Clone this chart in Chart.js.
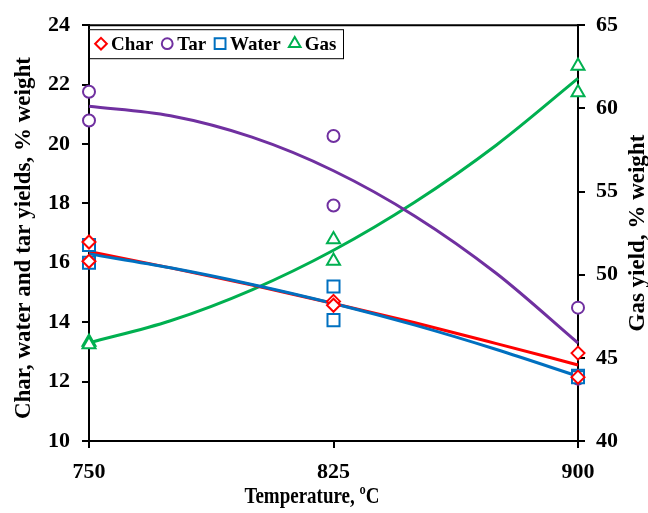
<!DOCTYPE html>
<html>
<head>
<meta charset="utf-8">
<script src="https://cdn.jsdelivr.net/npm/chart.js@4.4.1/dist/chart.umd.min.js"></script>
<style>
  html, body { margin: 0; padding: 0; background: #fff; }
  #wrap { width: 648px; height: 513px; }
</style>
</head>
<body>
<div id="wrap"><canvas id="chart"></canvas></div>
<script>
// measured points (two replicates per temperature)
var tempX  = [750, 750, 825, 825, 900, 900];
var charY  = [16.7, 16.05, 14.7, 14.57, 12.96, 12.15];
var tarY   = [21.76, 20.79, 20.27, 17.93, 14.49, 12.1];
var waterY = [16.6, 16.0, 15.2, 14.07, 12.2, 12.15];
var gasY   = [45.95, 45.8, 52.12, 50.83, 62.54, 60.95];

// trend curves
var fitX     = [750, 775, 800, 825, 850, 875, 900];
var charFit  = [16.38, 15.83, 15.25, 14.63, 13.98, 13.28, 12.56];
var tarFit   = [21.27, 20.95, 20.23, 19.10, 17.57, 15.64, 13.30];
var waterFit = [16.30, 15.83, 15.27, 14.63, 13.90, 13.08, 12.18];
var gasFit   = [45.90, 47.23, 49.09, 51.47, 54.37, 57.80, 61.80];

var xTicks = [750, 825, 900];

var xTitle = 'Temperature, ºC';
var yTitle = 'Char, water and tar yields, % weight';
var y2Title = 'Gas yield, % weight';

var RED = '#ff0000', PURPLE = '#7030a0', BLUE = '#0070c0', GREEN = '#00b050';
var FONT = "'Liberation Serif', 'Times New Roman', serif";

function pts(xs, ys) {
    return xs.map(function(x, i) { return { x: x, y: ys[i] }; });
}

function markers(label, ys, color, style, radius, order, axis) {
    return {
        type: 'scatter',
        label: label,
        data: pts(tempX, ys),
        yAxisID: axis || 'y',
        borderColor: color,
        backgroundColor: '#ffffff',
        pointStyle: style,
        pointRadius: radius,
        pointHoverRadius: radius,
        pointBorderWidth: 2,
        showLine: false,
        clip: false,
        order: order
    };
}

function curve(label, ys, color, order, axis) {
    return {
        type: 'line',
        label: label,
        data: pts(fitX, ys),
        yAxisID: axis || 'y',
        borderColor: color,
        borderWidth: 3,
        pointRadius: 0,
        fill: false,
        clip: false,
        cubicInterpolationMode: 'monotone',
        order: order
    };
}

// frame, titles and the boxed legend
var extrasPlugin = {
    id: 'extras',
    afterDraw: function(chart) {
        var ctx = chart.ctx, a = chart.chartArea;
        var midY = (a.top + a.bottom) / 2;
        ctx.save();
        ctx.strokeStyle = '#000';
        ctx.lineWidth = 2;
        ctx.beginPath();
        ctx.moveTo(a.left, a.top);
        ctx.lineTo(a.right, a.top);
        ctx.stroke();

        // axis titles
        ctx.fillStyle = '#000';
        ctx.textAlign = 'center';
        ctx.textBaseline = 'middle';
        ctx.save();
        ctx.translate(312, 497);
        ctx.scale(1, 1.2);
        ctx.font = 'bold 19px ' + FONT;
        ctx.fillText(xTitle, 0, 0);
        ctx.restore();
        ctx.font = 'bold 23px ' + FONT;
        ctx.save();
        ctx.translate(24, midY + 5);
        ctx.rotate(-Math.PI / 2);
        ctx.fillText(yTitle, 0, 0);
        ctx.restore();
        ctx.save();
        ctx.translate(638, midY);
        ctx.rotate(-Math.PI / 2);
        ctx.fillText(y2Title, 0, 0);
        ctx.restore();

        // legend
        var items = chart.data.datasets.filter(function(d) { return d.type === 'scatter'; });
        var bx = a.left, by = a.top + 4, bw = 254, bh = 29;
        ctx.fillStyle = '#fff';
        ctx.fillRect(bx, by, bw, bh);
        ctx.lineWidth = 1;
        ctx.strokeRect(bx + 0.5, by + 0.5, bw, bh);
        ctx.font = 'bold 19px ' + FONT;
        ctx.textAlign = 'left';
        var cx = bx + 12, cy = by + bh / 2;
        items.forEach(function(d) {
            ctx.strokeStyle = d.borderColor;
            ctx.fillStyle = '#fff';
            ctx.lineWidth = 2;
            Chart.helpers.drawPoint(ctx, { pointStyle: d.pointStyle, radius: d.pointRadius * 0.9, borderWidth: 2 }, cx, cy);
            ctx.fillStyle = '#000';
            ctx.fillText(d.label, cx + 10, cy + 1);
            cx += 10 + ctx.measureText(d.label).width + 14;
        });
        ctx.restore();
    }
};

var tickFont = { family: FONT, size: 22, weight: 'bold' };
var gridOpts = { display: true, drawOnChartArea: false, drawTicks: true, tickLength: 7, color: '#000', lineWidth: 2 };

new Chart(document.getElementById('chart').getContext('2d'), {
    type: 'scatter',
    data: {
        datasets: [
            markers('Char', charY, RED, 'rectRot', 6.5, 1),
            markers('Tar', tarY, PURPLE, 'circle', 6, 3),
            markers('Water', waterY, BLUE, 'rect', 8.5, 2),
            markers('Gas', gasY, GREEN, 'triangle', 7.5, 4, 'y2'),
            curve('fitChar', charFit, RED, 12),
            curve('fitTar', tarFit, PURPLE, 11),
            curve('fitWater', waterFit, BLUE, 10),
            curve('fitGas', gasFit, GREEN, 13, 'y2')
        ]
    },
    options: {
        responsive: true,
        maintainAspectRatio: false,
        animation: false,
        layout: { padding: { top: 20, left: 0, right: 0, bottom: 0 } },
        plugins: {
            tooltip: { enabled: false },
            legend: { display: false }
        },
        scales: {
            x: {
                type: 'linear',
                min: 750,
                max: 900,
                afterBuildTicks: function(s) { s.ticks = xTicks.map(function(v) { return { value: v }; }); },
                afterFit: function(s) { s.height = 72; },
                ticks: { font: tickFont, color: '#000', padding: 11 },
                grid: gridOpts,
                border: { display: true, color: '#000', width: 2 }
            },
            y: {
                position: 'left',
                min: 10,
                max: 24,
                afterFit: function(s) { s.width = 89; },
                ticks: { stepSize: 2, font: tickFont, color: '#000', padding: 12 },
                grid: gridOpts,
                border: { display: true, color: '#000', width: 2 }
            },
            y2: {
                position: 'right',
                min: 40,
                max: 65,
                afterFit: function(s) { s.width = 70; },
                ticks: { stepSize: 5, font: tickFont, color: '#000', padding: 11 },
                grid: gridOpts,
                border: { display: true, color: '#000', width: 2 }
            }
        }
    },
    plugins: [extrasPlugin]
});
</script>
</body>
</html>
